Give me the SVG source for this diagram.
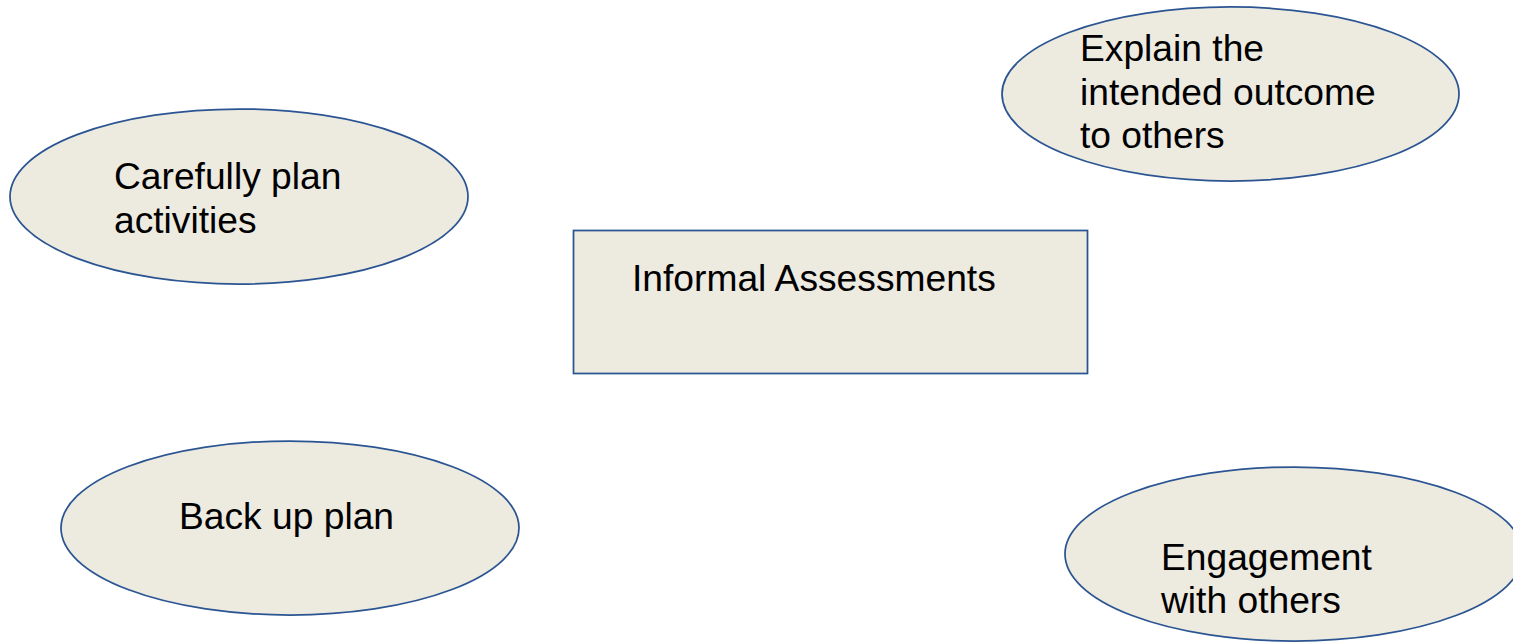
<svg xmlns="http://www.w3.org/2000/svg" width="1513" height="642" viewBox="0 0 1513 642">
  <style>
    .shape { fill: #edeae0; stroke: #2b5592; stroke-width: 1.75; }
    .label { font-family: "Liberation Sans", Arial, sans-serif; font-size: 37.2px; fill: #000000; }
  </style>
  <rect x="0" y="0" width="1513" height="642" fill="#ffffff"/>

  <!-- Central topic -->
  <g id="informal-assessments">
    <rect class="shape" x="573.5" y="230.5" width="514" height="143"/>
    <text class="label" x="632" y="291">Informal Assessments</text>
  </g>

  <!-- Surrounding ideas -->
  <g id="carefully-plan">
    <ellipse class="shape" cx="239" cy="196.5" rx="229" ry="87.5"/>
    <text class="label" x="114" y="189">Carefully plan</text>
    <text class="label" x="114" y="233">activities</text>
  </g>

  <g id="explain-outcome">
    <ellipse class="shape" cx="1230.5" cy="94" rx="228.5" ry="87"/>
    <text class="label" x="1080" y="61">Explain the</text>
    <text class="label" x="1080" y="104.5">intended outcome</text>
    <text class="label" x="1080" y="148">to others</text>
  </g>

  <g id="back-up-plan">
    <ellipse class="shape" cx="290" cy="528" rx="229" ry="87"/>
    <text class="label" x="179" y="529">Back up plan</text>
  </g>

  <g id="engagement">
    <ellipse class="shape" cx="1294" cy="554" rx="229" ry="87"/>
    <text class="label" x="1161" y="570">Engagement</text>
    <text class="label" x="1161" y="613">with others</text>
  </g>

  <!-- Connectors (none drawn) -->
  <g id="connectors"/>
</svg>
